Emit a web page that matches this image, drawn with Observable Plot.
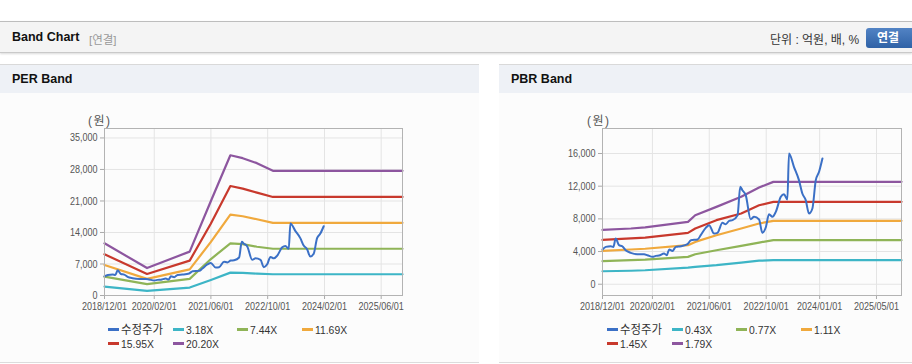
<!DOCTYPE html>
<html><head><meta charset="utf-8">
<script src="https://cdn.jsdelivr.net/npm/d3@7"></script>
<script src="https://cdn.jsdelivr.net/npm/@observablehq/plot@0.6"></script>
<style>
body{margin:0;width:912px;height:364px;position:relative;background:#fff;overflow:hidden;font-family:"Liberation Sans",Arial,"Noto Sans CJK KR",sans-serif;}
.abs{position:absolute;}
.hdr{left:0;top:21px;width:912px;height:30px;background:#f4f4f4;border-top:1px solid #bdbdbd;border-bottom:1px solid #c9c9c9;box-shadow:0 1px 2px rgba(0,0,0,0.15);}
.panel{top:64px;height:297px;background:#fcfcfc;border-top:1px solid #d9d9d9;border-bottom:1px solid #dcdcdc;}
.phead{left:0;top:0;right:0;height:28px;background:#eef1f6;}
.ptitle{left:12px;top:7px;font-weight:bold;font-size:12.5px;color:#111;}
.unit{font-size:12px;color:#555;letter-spacing:1.5px;}
.leg{font-size:11.5px;color:#333;white-space:nowrap;line-height:12px;}
.leg .t{display:inline-block;transform:scaleX(0.9);transform-origin:left center;}
.leg .k{display:inline-block;transform:scaleX(0.95);transform-origin:left center;font-size:12px;}
.sw{display:inline-block;width:11px;height:3px;vertical-align:middle;margin-right:2px;position:relative;top:-1px;}
</style></head>
<body>
<div class="abs hdr">
  <div class="abs" style="left:12px;top:8px;font-weight:bold;font-size:12.5px;color:#111;">Band Chart</div>
  <div class="abs" style="left:89px;top:9px;font-size:11.5px;color:#999;">[연결]</div>
  <div class="abs" style="left:770px;top:8px;font-size:12px;color:#333;">단위 : 억원, 배, %</div>
  <div class="abs" style="left:866px;top:6px;width:52px;height:20px;border-radius:3px;background:linear-gradient(#5283c4,#2f62a6);color:#fff;font-weight:bold;font-size:12px;line-height:20px;text-indent:11px;">연결</div>
</div>
<div class="abs panel" style="left:0;width:479px;"><div class="abs phead"></div><div class="abs ptitle">PER Band</div></div>
<div class="abs panel" style="left:499px;width:413px;"><div class="abs phead"></div><div class="abs ptitle">PBR Band</div></div>
<div class="abs unit" style="left:88px;top:111px;">(원)</div>
<div class="abs unit" style="left:587px;top:111px;">(원)</div>
<div id="per" class="abs" style="left:0;top:100px;"></div>
<div id="pbr" class="abs" style="left:499px;top:100px;"></div>
<div id="perLeg"></div>
<div id="pbrLeg"></div>
<script>
// ---------- data ----------
const priceName = "수정주가";
const priceDates = ["2018-12-01","2018-12-29","2019-02-10","2019-03-04","2019-03-24","2019-04-21","2019-05-19","2019-06-17","2019-07-30","2019-09-26","2019-11-22","2019-12-20","2020-02-02","2020-03-01","2020-03-29","2020-05-10","2020-06-03","2020-06-23","2020-07-21","2020-08-19","2020-10-01","2020-11-27","2020-12-26","2021-02-21","2021-03-20","2021-05-02","2021-05-31","2021-07-12","2021-08-10","2021-09-22","2021-10-20","2021-11-18","2021-12-17","2022-01-29","2022-02-21","2022-03-11","2022-04-09","2022-05-21","2022-06-19","2022-08-01","2022-08-29","2022-09-27","2022-10-25","2022-11-23","2022-12-22","2023-02-03","2023-03-02","2023-03-31","2023-04-14","2023-05-26","2023-07-08","2023-08-06","2023-09-04","2023-10-02","2023-10-31","2023-11-29","2023-12-27","2024-01-25"];
const priceValues = [4250,4570,4650,4570,5590,4780,4650,4160,3840,3670,3670,3550,3350,3470,3510,3760,3550,4250,4080,4570,4650,4900,5390,5470,6000,6900,7230,6200,6290,7510,7350,7760,7840,8450,11920,11510,10900,7960,8250,7920,6290,6940,8570,8250,8860,10700,11020,10370,16000,14370,12740,11100,10290,8650,9270,12740,13760,15390];

const perBandDates = ["2018-12-01","2019-12-01","2020-12-01","2021-06-01","2021-11-15","2022-03-01","2022-07-01","2022-11-15","2025-12-01"];
const perBandNames = ["3.18X","7.44X","11.69X","15.95X","20.20X"];
const per318  = [1990,1030,1770,3450,5085,5010,4860,4720,4720];
const per744  = [4200,2510,3690,8100,11570,11420,10830,10390,10390];
const per1169 = [6780,3690,5820,11900,17980,17610,16950,16140,16140];
const per1595 = [9160,4790,7740,16000,24320,23730,22850,21890,21890];
const per2020 = [11600,6100,9750,21000,31150,30510,29400,27700,27700];

const pbrBandDates = ["2018-12-01","2019-08-01","2019-12-01","2020-12-01","2021-02-01","2021-08-01","2022-03-01","2022-08-01","2022-12-01","2025-12-01"];
const pbrBandNames = ["0.43X","0.77X","1.11X","1.45X","1.79X"];
const pbr043 = [1590,1650,1710,2040,2120,2330,2650,2880,2940,2940];
const pbr077 = [2820,2950,3020,3350,3670,4160,4690,5100,5390,5390];
const pbr111 = [4080,4250,4340,4780,5180,6000,6820,7430,7760,7760];
const pbr145 = [5430,5620,5710,6290,6820,7840,8650,9670,10080,10080];
const pbr179 = [6650,6820,6950,7630,8450,9470,10700,11840,12530,12530];

const perYTicks = [0,7000,14000,21000,28000,35000];
const pbrYTicks = [0,4000,8000,12000,16000];
const perXTicks = ["2018-12-01","2020-02-01","2021-06-01","2022-10-01","2024-02-01","2025-06-01"];
const pbrXTicks = ["2018-12-01","2020-02-01","2021-06-01","2022-10-01","2024-01-01","2025-05-01"];
const xStart = "2018-12-01", xEnd = "2025-12-01";

const priceColor = "#3b70c6";
const bandColors = ["#3db5c6","#8fb457","#f0a93d","#c8392d","#8d569f"];

// ---------- build ----------
const D = s => new Date(s);
const price = priceDates.map((d,i)=>({date:D(d), value:priceValues[i]}));
function bands(dates, series){ return series.map(vals => dates.map((d,i)=>({date:D(d), value:vals[i]}))); }

function chart(opts){
  const {width, marginLeft, marginRight, yDomain, yTicks, xTicks, bandData} = opts;
  const xt = xTicks.map(D);
  return Plot.plot({
    width, height:220, marginLeft, marginRight, marginTop:28, marginBottom:25,
    style:{background:"transparent", fontFamily:"'Liberation Sans',Arial,sans-serif", fontSize:"11px", color:"#555", overflow:"visible"},
    x:{type:"utc", domain:[D(xStart), D(xEnd)]},
    y:{domain:yDomain},
    marks:[
      Plot.gridX(xt, {stroke:"#e4e4e4", strokeOpacity:1}),
      Plot.gridY(yTicks, {stroke:"#e4e4e4", strokeOpacity:1}),
      Plot.axisX(xt, {tickFormat:d3.utcFormat("%Y/%m/%d"), tickSize:4, tickPadding:3, stroke:"#aaa", label:null}),
      Plot.axisY(yTicks, {tickFormat:d3.format(","), tickSize:4, tickPadding:3, stroke:"#aaa", label:null}),
      ...bandData.map((b,i)=>Plot.line(b, {x:"date", y:"value", stroke:bandColors[i], strokeWidth:2.2})),
      Plot.line(price, {x:"date", y:"value", stroke:priceColor, strokeWidth:2, curve:"monotone-x"}),
      Plot.frame({stroke:"#b3b3b3"})
    ]
  });
}

function condense(svg){
  svg.querySelectorAll("g[aria-label$='tick label'] text").forEach(t=>{
    const w = t.getComputedTextLength();
    t.setAttribute("textLength", (w*0.82).toFixed(1));
    t.setAttribute("lengthAdjust", "spacingAndGlyphs");
  });
}

const perSvg = chart({
  width:480, marginLeft:104, marginRight:78, yDomain:[0,37100], yTicks:perYTicks, xTicks:perXTicks,
  bandData:bands(perBandDates,[per318,per744,per1169,per1595,per2020])
});
document.getElementById("per").append(perSvg); condense(perSvg);
const pbrSvg = chart({
  width:413, marginLeft:103, marginRight:11, yDomain:[-1380,19060], yTicks:pbrYTicks, xTicks:pbrXTicks,
  bandData:bands(pbrBandDates,[pbr043,pbr077,pbr111,pbr145,pbr179])
});
document.getElementById("pbr").append(pbrSvg); condense(pbrSvg);

function legend(id, x0, names){
  const cols = [0,65.5,129,194];
  const items = [{n:priceName,c:priceColor,k:true}, ...names.map((n,i)=>({n, c:bandColors[i]}))];
  const host = document.getElementById(id);
  items.forEach((it,i)=>{
    const row = i<4?0:1, col = i<4?i:i-4;
    const el = document.createElement("div");
    el.className = "abs leg";
    el.style.left = (x0 + cols[col]) + "px";
    el.style.top = (324 + row*13.5) + "px";
    el.innerHTML = `<span class="sw" style="background:${it.c}"></span><span class="${it.k?'k':'t'}">${it.n}</span>`;
    host.append(el);
  });
}
legend("perLeg", 107.5, perBandNames);
legend("pbrLeg", 606.5, pbrBandNames);
</script>
</body></html>
